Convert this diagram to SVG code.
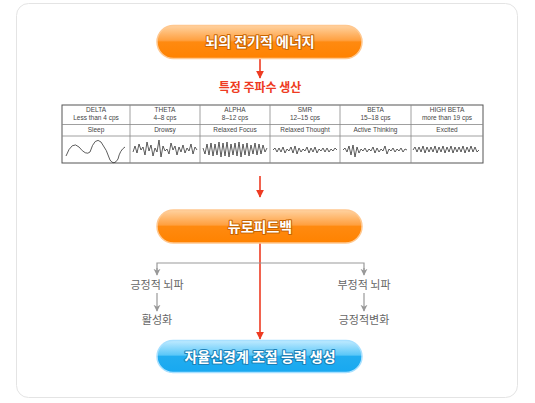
<svg xmlns="http://www.w3.org/2000/svg" width="535" height="403" viewBox="0 0 535 403">
<defs>
<linearGradient id="og" x1="0" y1="0" x2="0" y2="1">
<stop offset="0" stop-color="#ffd2a0"/><stop offset="0.45" stop-color="#ffa040"/><stop offset="0.5" stop-color="#ff8a10"/><stop offset="1" stop-color="#ff8200"/>
</linearGradient>
<linearGradient id="bg" x1="0" y1="0" x2="0" y2="1">
<stop offset="0" stop-color="#bfeaff"/><stop offset="0.45" stop-color="#5cc8f8"/><stop offset="0.5" stop-color="#22adf0"/><stop offset="1" stop-color="#18a8f0"/>
</linearGradient>
<marker id="ar" viewBox="0 0 10 10" refX="9" refY="5" markerWidth="8" markerHeight="8" markerUnits="userSpaceOnUse" orient="auto"><path d="M0,0 L10,5 L0,10 Z" fill="#ee3b22"/></marker>
<marker id="ag" viewBox="0 0 10 10" refX="9" refY="5" markerWidth="7" markerHeight="8" markerUnits="userSpaceOnUse" orient="auto"><path d="M0,0 L10,5 L0,10 L3,5 Z" fill="#999"/></marker>
<style>
.btn-o{fill:url(#og);stroke:#ffc890;stroke-width:1.5}
.btn-b{fill:url(#bg);stroke:#a8e0ff;stroke-width:1.5}
.bt{font-family:"Noto Sans CJK KR","Noto Sans",sans-serif;font-size:14px;font-weight:bold;fill:#fff;text-anchor:middle;paint-order:stroke;stroke-width:2;stroke-linejoin:round}
.bto{stroke:#c86400}
.btb{stroke:#1a7fb8}
.red{stroke:#ee3b22;stroke-width:1.6;fill:none}
.gray{stroke:#999;stroke-width:1.2;fill:none}
.gt{font-family:"Noto Sans CJK KR",sans-serif;font-size:11px;fill:#666;text-anchor:middle}
.rt{font-family:"Noto Sans CJK KR",sans-serif;font-size:12px;font-weight:bold;fill:#ee3b22;text-anchor:middle}
.tb{fill:#fff;stroke:#555;stroke-width:1}
.tl{stroke:#888;stroke-width:0.8}
.tt{font-family:"Liberation Sans",sans-serif;font-size:6.5px;fill:#444;text-anchor:middle}
.wv{fill:none;stroke:#333;stroke-width:0.8;stroke-linejoin:round}
</style>
</defs>
<rect x="16.5" y="3.5" width="501" height="394" rx="12" fill="#fff" stroke="#e4e4e4"/>

<g id="connectors">
<line class="red" x1="260" y1="59" x2="260" y2="78" marker-end="url(#ar)"/>
<line class="red" x1="260" y1="176" x2="260" y2="197" marker-end="url(#ar)"/>
<line class="red" x1="260" y1="243" x2="260" y2="339" marker-end="url(#ar)"/>
<polyline class="gray" points="157,274 157,263 364,263 364,274"/>
<line class="gray" x1="157" y1="268" x2="157" y2="275" marker-end="url(#ag)"/>
<line class="gray" x1="364" y1="268" x2="364" y2="275" marker-end="url(#ag)"/>
<line class="gray" x1="157" y1="293" x2="157" y2="311" marker-end="url(#ag)"/>
<line class="gray" x1="364" y1="293" x2="364" y2="311" marker-end="url(#ag)"/>
</g>

<g id="node-energy">
<rect class="btn-o" x="157" y="25.5" width="205" height="33" rx="16.5"/>
<text class="bt bto" x="260" y="47">뇌의 전기적 에너지</text>
</g>

<g id="node-freq">
<text class="rt" x="260" y="92">특정 주파수 생산</text>
</g>

<g id="node-table">
<rect class="tb" x="62" y="105" width="421" height="58"/>
<line class="tl" x1="62" y1="124.5" x2="483" y2="124.5"/>
<line class="tl" x1="62" y1="136" x2="483" y2="136"/>
<line class="tl" x1="130" y1="105" x2="130" y2="163"/>
<line class="tl" x1="200" y1="105" x2="200" y2="163"/>
<line class="tl" x1="270" y1="105" x2="270" y2="163"/>
<line class="tl" x1="340" y1="105" x2="340" y2="163"/>
<line class="tl" x1="411" y1="105" x2="411" y2="163"/>
<text class="tt" x="96" y="112">DELTA</text><text class="tt" x="96" y="119.5">Less than 4 cps</text><text class="tt" x="96" y="132">Sleep</text>
<text class="tt" x="165" y="112">THETA</text><text class="tt" x="165" y="119.5">4–8 cps</text><text class="tt" x="165" y="132">Drowsy</text>
<text class="tt" x="235" y="112">ALPHA</text><text class="tt" x="235" y="119.5">8–12 cps</text><text class="tt" x="235" y="132">Relaxed Focus</text>
<text class="tt" x="305" y="112">SMR</text><text class="tt" x="305" y="119.5">12–15 cps</text><text class="tt" x="305" y="132">Relaxed Thought</text>
<text class="tt" x="375.5" y="112">BETA</text><text class="tt" x="375.5" y="119.5">15–18 cps</text><text class="tt" x="375.5" y="132">Active Thinking</text>
<text class="tt" x="447" y="112">HIGH BETA</text><text class="tt" x="447" y="119.5">more than 19 cps</text><text class="tt" x="447" y="132">Excited</text>
<path class="wv" d="M66,156 Q72,140 79,147 Q86,156 90,152 Q95,136 101,142 Q107,150 110,160 Q114,166 118,159 Q120,150 125,147"/>
<polyline class="wv" points="133,152 135,146 137,153 139,144 141,150 143,147 145,155 147,142 149,151 151,145 153,156 155,148 157,152 159,140 161,157 163,146 165,151 167,149 169,154 171,143 173,150 175,146 177,155 179,147 181,152 183,145 185,153 187,148 189,151 191,144 193,154 195,147 197,150"/>
<polyline class="wv" points="203,148 205,154 207,144 209,155 211,143 213,156 215,144 217,155 219,142 221,157 223,143 225,156 227,142 229,157 231,144 233,155 235,143 237,156 239,142 241,157 243,144 245,155 247,143 249,156 251,145 253,154 255,143 257,155 259,144 261,154 263,145 265,152 267,148"/>
<polyline class="wv" points="273,150 275,148 277,152 279,148 281,152 283,147 285,153 287,149 289,151 291,147 293,153 295,146 297,154 299,148 301,152 303,149 305,151 307,147 309,153 311,148 313,152 315,147 317,153 319,149 321,151 323,148 325,152 327,148 329,152 331,149 333,151 335,148 337,150"/>
<polyline class="wv" points="343,150 345,148 347,152 349,146 351,155 353,145 355,157 357,147 359,153 361,149 363,151 365,148 367,152 369,149 371,151 373,147 375,153 377,148 379,152 381,149 383,151 385,146 387,154 389,149 391,151 393,148 395,152 397,149 399,151 401,148 403,152 405,149 407,150"/>
<polyline class="wv" points="413,150 415,147 417,152 419,147 421,152 423,146 425,153 427,147 429,152 431,147 433,152 435,146 437,153 439,147 441,152 443,146 445,153 447,147 449,152 451,146 453,153 455,147 457,152 459,147 461,152 463,146 465,153 467,147 469,152 471,146 473,152 475,147 477,152 479,150"/>
</g>

<g id="node-neurofeedback">
<rect class="btn-o" x="157" y="210" width="205" height="33" rx="16.5"/>
<text class="bt bto" x="260" y="231.5">뉴로피드백</text>
</g>

<g id="node-positive">
<text class="gt" x="157" y="289">긍정적 뇌파</text>
</g>
<g id="node-activation">
<text class="gt" x="157" y="324">활성화</text>
</g>
<g id="node-negative">
<text class="gt" x="364" y="289">부정적 뇌파</text>
</g>
<g id="node-change">
<text class="gt" x="364" y="324">긍정적변화</text>
</g>

<g id="node-autonomic">
<rect class="btn-b" x="157" y="340.5" width="205" height="32" rx="16"/>
<text class="bt btb" x="260" y="361.5">자율신경계 조절 능력 생성</text>
</g>
</svg>
